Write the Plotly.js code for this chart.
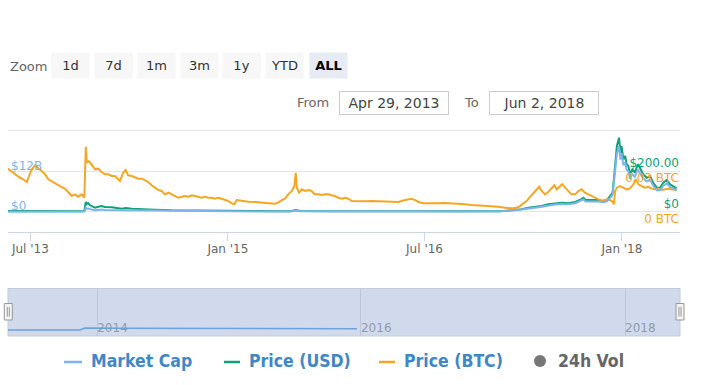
<!DOCTYPE html>
<html>
<head>
<meta charset="utf-8">
<script src="https://cdn.plot.ly/plotly-3.0.1.min.js"></script>
<style>html,body{margin:0;padding:0;background:#fff;}#chart{width:714px;height:385px;}</style>
</head>
<body>
<div id="chart"></div>
<script>
// ---- data (days counted from the first date) ----
const startDate = '2013-04-29';
const endDate = '2018-06-02';

const btcDays = [0,15,25,34,43,53,59,67,76,85,94,104,113,122,131,141,150,159,168,178,187,196,206,213,217,220,226,233,243,252,261,270,280,289,298,312,321,328,335,345,354,363,373,382,391,400,410,419,428,437,447,456,465,474,484,493,502,512,521,530,539,549,558,567,576,586,595,604,613,623,630,637,651,669,688,706,725,743,752,762,771,780,790,797,801,804,810,818,827,836,845,854,864,873,882,891,901,910,919,929,938,947,957,975,994,1012,1031,1049,1068,1086,1105,1123,1133,1142,1156,1179,1197,1216,1235,1253,1272,1290,1309,1327,1346,1364,1383,1402,1415,1425,1434,1443,1453,1462,1471,1478,1485,1494,1503,1513,1520,1527,1536,1542,1550,1559,1568,1578,1587,1596,1605,1615,1624,1633,1642,1652,1661,1670,1680,1686,1689,1694,1703,1712,1721,1730,1740,1746,1754,1763,1772,1781,1791,1800,1809,1819,1828,1837,1846,1856,1860];
const btcPrice = [0.0318,0.0288,0.0269,0.0251,0.0240,0.0220,0.0264,0.0313,0.0343,0.0325,0.0301,0.0276,0.0240,0.0227,0.0215,0.0196,0.0183,0.0171,0.0146,0.0117,0.0129,0.0112,0.0129,0.0104,0.0479,0.0362,0.0374,0.0350,0.0313,0.0318,0.0293,0.0276,0.0276,0.0264,0.0264,0.0227,0.0288,0.0308,0.0269,0.0264,0.0251,0.0244,0.0244,0.0234,0.0220,0.0196,0.0178,0.0161,0.0154,0.0129,0.0141,0.0129,0.0117,0.0104,0.0112,0.0117,0.0112,0.0122,0.0117,0.0112,0.0104,0.0112,0.0104,0.0104,0.0097,0.0104,0.0097,0.0087,0.0080,0.0063,0.0056,0.0087,0.0080,0.0075,0.0073,0.0068,0.0063,0.0060,0.0068,0.0087,0.0097,0.0129,0.0154,0.0190,0.0288,0.0178,0.0141,0.0166,0.0154,0.0161,0.0154,0.0129,0.0129,0.0124,0.0129,0.0129,0.0122,0.0117,0.0104,0.0097,0.0104,0.0097,0.0080,0.0078,0.0078,0.0080,0.0078,0.0078,0.0075,0.0073,0.0087,0.0097,0.0087,0.0073,0.0063,0.0060,0.0063,0.0065,0.0063,0.0060,0.0056,0.0051,0.0049,0.0043,0.0043,0.0038,0.0031,0.0026,0.0031,0.0043,0.0063,0.0080,0.0112,0.0141,0.0171,0.0185,0.0154,0.0129,0.0146,0.0178,0.0196,0.0166,0.0190,0.0203,0.0178,0.0154,0.0129,0.0129,0.0154,0.0166,0.0141,0.0129,0.0117,0.0104,0.0093,0.0080,0.0087,0.0093,0.0080,0.0056,0.0154,0.0178,0.0190,0.0178,0.0166,0.0171,0.0203,0.0240,0.0203,0.0190,0.0178,0.0185,0.0171,0.0166,0.0171,0.0161,0.0166,0.0171,0.0166,0.0159,0.0159];

const usdDays = [0,62,145,201,213,217,220,224,229,233,243,252,261,270,289,317,328,345,373,410,456,512,567,632,702,785,801,813,896,980,1091,1147,1258,1369,1411,1429,1448,1466,1485,1503,1522,1541,1559,1578,1591,1601,1607,1624,1642,1656,1666,1675,1682,1689,1694,1700,1704,1707,1712,1717,1721,1726,1730,1737,1744,1752,1758,1767,1777,1786,1795,1805,1814,1823,1833,1842,1851,1860];
const usdPrice = [4.3,3.0,2.9,3.8,5,48.5,38.7,43.6,32.4,29,20.6,25.5,29,24,22.5,15.7,19,15.7,12.7,10.8,7.8,6.9,5.9,2.9,2.9,3.4,9.3,4.4,2.9,3.4,3.4,3.9,2.9,3.4,9.3,12.7,20.6,24,28.9,37.3,42.2,45.1,42.2,48.5,58.3,69.6,58.3,58.3,58.3,53.4,58.3,77.9,94.1,225,323,363.7,290,323,257.8,274,233.3,225,184.3,208.8,192.2,233.3,216.7,184.3,167.6,176,143.1,118.6,118.6,143.1,156.4,135.3,127,115.7];

const capDays = usdDays;
const marketCapB = [0.07,0.05,0.05,0.08,0.11,1.2,0.9,1.0,0.75,0.68,0.5,0.6,0.68,0.57,0.55,0.39,0.48,0.4,0.33,0.29,0.21,0.19,0.17,0.09,0.09,0.11,0.38,0.18,0.13,0.16,0.16,0.19,0.15,0.18,0.48,0.66,1.07,1.25,1.5,1.95,2.2,2.36,2.22,2.55,3.07,3.67,3.08,3.08,3.09,2.84,3.1,4.15,5.0,12.0,17.1,19.3,15.4,17.2,13.7,14.6,12.4,12.0,9.8,11.1,10.3,12.5,11.6,9.9,9.0,9.5,7.7,6.4,6.4,7.7,8.4,7.3,6.9,6.3];

const navDays = [0,100,199,206,213,300,500,750,966];
const navCap = [0.4,0.4,0.4,0.9,1.4,1.3,1.15,1.05,1.0];

const xTickDates = ['2013-07-01','2015-01-01','2016-07-01','2018-01-01'];
const xTickText = ["Jul '13","Jan '15","Jul '16","Jan '18"];
const navTickDates = ['2014-01-01','2016-01-01','2018-01-01'];
const navTickText = ['2014','2016','2018'];
const usdTicks = [0,200,400], usdTickText = ['$0','$200.00',''];
const btcTicks = [0,0.03], btcTickText = ['0 BTC','0.03 BTC'];
const capTicks = [0,12], capTickText = ['$0','$12B'];
const zoomButtons = ['1d','7d','1m','3m','1y','YTD','ALL'];
const legendItems = ['Market Cap','Price (USD)','Price (BTC)','24h Vol'];

// ---- helpers ----
const t0 = Date.UTC(2013,3,29);
const toDate = d => new Date(t0 + d*86400000).toISOString().slice(0,10);
const W = 714, H = 385;
const X = p => p / W, Y = p => 1 - p / H;

const C_CAP = '#7cb5ec', C_USD = '#11a07a', C_BTC = '#f5a623';
const FONT = 'DejaVu Sans, Verdana, sans-serif';

const traces = [
  {x: capDays.map(toDate), y: marketCapB, xaxis:'x', yaxis:'y3', type:'scatter', mode:'lines',
   line:{color:C_CAP, width:2}, name:'Market Cap', showlegend:false},
  {x: usdDays.map(toDate), y: usdPrice, xaxis:'x', yaxis:'y', type:'scatter', mode:'lines',
   line:{color:C_USD, width:2}, name:'Price (USD)', showlegend:false},
  {x: btcDays.map(toDate), y: btcPrice, xaxis:'x', yaxis:'y2', type:'scatter', mode:'lines',
   line:{color:C_BTC, width:2}, name:'Price (BTC)', showlegend:false},
  {x: navDays.map(toDate), y: navCap, xaxis:'x2', yaxis:'y4', type:'scatter', mode:'lines',
   line:{color:'#6ba3dc', width:1.5}, showlegend:false}
];

const mainDom = [Y(232), Y(128.8)];
const navDom = [Y(336), Y(288.5)];
const usdRange = [-98.5, 407.4];

const annotations = [];
annotations.push({text:'Zoom', x:X(8), y:Y(66), xref:'paper', yref:'paper', xanchor:'left', yanchor:'middle',
  showarrow:false, font:{family:FONT, size:13, color:'#666'}});
const btnCenters = [70,113.3,156,199,241.7,284.3,328];
zoomButtons.forEach((b,i) => {
  const sel = b === 'ALL';
  annotations.push({text: sel ? '<b>'+b+'</b>' : b, x:X(btnCenters[i]), y:Y(65.8), xref:'paper', yref:'paper',
    xanchor:'center', yanchor:'middle', showarrow:false, width:37, height:25, borderpad:0,
    bgcolor: sel ? '#e6ebf5' : '#f7f7f7', font:{family:FONT, size:13, color: sel ? '#000' : '#333'}});
});
annotations.push({text:'From', x:X(313), y:Y(102.7), xref:'paper', yref:'paper', xanchor:'center', yanchor:'middle',
  showarrow:false, font:{family:FONT, size:13, color:'#666'}});
annotations.push({text:'To', x:X(471.5), y:Y(102.7), xref:'paper', yref:'paper', xanchor:'center', yanchor:'middle',
  showarrow:false, font:{family:FONT, size:13, color:'#666'}});
[[394.3,'Apr 29, 2013'],[543.8,'Jun 2, 2018']].forEach(([cx,label]) => {
  annotations.push({text:label, x:X(cx), y:Y(102.8), xref:'paper', yref:'paper', xanchor:'center', yanchor:'middle',
    showarrow:false, width:108, height:22, borderpad:0, bordercolor:'#cccccc', borderwidth:1, bgcolor:'#fff',
    font:{family:FONT, size:14, color:'#444'}});
});
// left (market cap) axis labels
capTicks.forEach((v,i) => {
  annotations.push({text:capTickText[i], x:X(9), y:v, xref:'paper', yref:'y3', xanchor:'left', yanchor:'middle',
    yshift:5.5, showarrow:false, font:{family:FONT, size:12, color:C_CAP}});
});
// legend
const legTextX = [89, 246.6, 402, 556];
legendItems.forEach((t,i) => {
  annotations.push({text:'<b>'+t+'</b>', x:X(legTextX[i]), y:Y(361), xref:'paper', yref:'paper', xanchor:'left', yanchor:'middle',
    showarrow:false, font:{family:'DejaVu Sans Condensed, Liberation Sans Narrow, sans-serif', size:17.5, color: i===3 ? '#666' : '#3f88c5'}});
});

const shapes = [
  {type:'rect', xref:'paper', yref:'paper', x0:X(8), x1:X(680), y0:Y(336), y1:Y(288.5), fillcolor:'#d1daed',
   line:{color:'#c3cbd9', width:1}, layer:'below'},
];
[8.3, 680].forEach(cx => {
  shapes.push({type:'rect', xref:'paper', yref:'paper', x0:X(cx-4), x1:X(cx+4), y0:Y(320), y1:Y(303.5),
    fillcolor:'#f2f2f2', line:{color:'#999', width:1}, layer:'above'});
  [-1, 1].forEach(o => shapes.push({type:'line', xref:'paper', yref:'paper', x0:X(cx+o), x1:X(cx+o), y0:Y(316.5), y1:Y(307),
    line:{color:'#999', width:1}, layer:'above'}));
});
[[64,82,C_CAP],[224,240,C_USD],[379,395,C_BTC]].forEach(([a,b,c]) => {
  shapes.push({type:'line', xref:'paper', yref:'paper', x0:X(a), x1:X(b), y0:Y(362), y1:Y(362), line:{color:c, width:2.5}});
});
shapes.push({type:'circle', xref:'paper', yref:'paper', x0:X(534), x1:X(546), y0:Y(367), y1:Y(355), fillcolor:'#777', line:{width:0}});

const layout = {
  width: W, height: H,
  margin: {l:0, r:0, t:0, b:0, pad:0},
  paper_bgcolor:'#fff', plot_bgcolor:'rgba(0,0,0,0)',
  showlegend:false,
  font:{family:FONT, size:12, color:'#666'},
  xaxis: {type:'date', domain:[X(8), X(680)], anchor:'y', range:['2013-04-29 16:00','2018-06-11 12:00'],
    tickmode:'array', tickvals:xTickDates, ticktext:xTickText, ticks:'outside', ticklen:8, tickcolor:'#ccd6eb', tickwidth:1,
    ticklabeloverflow:'allow', ticklabelstandoff:-2,
    showline:true, linecolor:'#ccd6eb', linewidth:1, showgrid:false, zeroline:false,
    tickfont:{family:FONT, size:12, color:'#666'}},
  yaxis: {domain:mainDom, anchor:'x', side:'right', range:usdRange, tickvals:usdTicks, ticktext:usdTickText,
    ticklabelposition:'inside top', ticklabelshift:3.5, ticklabelstandoff:-2, ticks:'', showgrid:true, gridcolor:'#e6e6e6', gridwidth:1, zeroline:false, showline:false,
    tickfont:{family:FONT, size:12, color:C_USD}},
  yaxis2: {overlaying:'y', anchor:'x', side:'right', range:[usdRange[0]*0.03/200, usdRange[1]*0.03/200],
    tickvals:btcTicks, ticktext:btcTickText, ticklabelposition:'inside bottom', ticklabelshift:-2, ticklabelstandoff:-2, ticks:'', showgrid:false, zeroline:false,
    tickfont:{family:FONT, size:12, color:C_BTC}},
  yaxis3: {overlaying:'y', anchor:'x', side:'left', range:[usdRange[0]*12/200, usdRange[1]*12/200],
    tickvals:capTicks, showticklabels:false, ticks:'', showgrid:false, zeroline:false},
  xaxis2: {type:'date', domain:[X(8), X(680)], anchor:'y4', range:[startDate, endDate],
    tickvals:navTickDates, ticktext:navTickText, ticklabelposition:'inside right', ticklabelstandoff:-4, ticks:'',
    showgrid:true, gridcolor:'#bcc6d8', gridwidth:1, zeroline:false, showline:false,
    tickfont:{family:FONT, size:12, color:'#8f9ab0'}},
  yaxis4: {domain:navDom, anchor:'x2', range:[-3, 23.5], visible:false, showgrid:false, zeroline:false},
  annotations, shapes
};

Plotly.newPlot('chart', traces, layout, {displayModeBar:false, staticPlot:true});
</script>
</body>
</html>
